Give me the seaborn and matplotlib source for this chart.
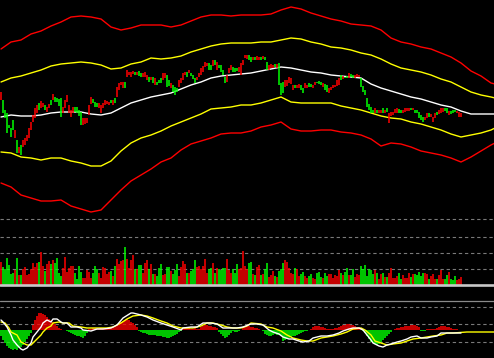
import numpy as np
import pandas as pd
import matplotlib
matplotlib.use("Agg")
import matplotlib.pyplot as plt
import seaborn as sns

# ---------------- data ----------------
open_ = [200,200,190,187,175,172,180,162,160,147,
         155,153,155,159,162,170,178,182,187,197,
         192,193,195,188,192,200,200,203,202,201,
         202,187,192,198,187,183,187,193,193,190,
         188,175,176,177,185,196,201,198,197,192,
         187,192,195,196,195,200,195,202,203,210,
         215,212,218,223,225,223,226,228,225,229,
         227,223,223,220,223,220,223,215,218,220,
         222,220,222,225,220,212,215,213,212,213,
         217,220,225,228,227,227,225,222,220,223,
         225,228,233,234,237,235,234,240,230,235,
         235,230,223,218,227,230,233,232,232,228,
         225,235,242,241,245,243,240,243,240,240,
         243,241,243,238,230,232,232,236,232,237,
         217,218,213,214,217,216,210,215,212,212,
         215,212,212,212,217,216,212,215,218,219,
         218,213,216,215,207,210,212,213,214,215,
         225,221,223,224,222,226,225,222,223,223,
         222,214,210,202,196,193,190,187,190,187,
         187,192,187,192,177,184,185,187,187,191,
         190,187,188,189,189,192,190,190,190,188,
         185,183,180,182,187,183,178,182,188,186,
         187,188,192,192,185,189,190,190,187,183,
         183]
close = [208,187,182,167,172,163,170,170,147,153,
         145,160,162,165,172,178,185,192,195,190,
         199,197,190,193,196,195,206,198,198,194,
         183,193,200,205,195,190,193,188,187,184,
         175,182,182,182,195,203,197,193,193,197,
         195,197,200,199,198,197,200,197,213,217,
         218,218,212,230,228,228,229,225,228,224,
         223,227,228,225,218,223,217,222,215,217,
         217,227,227,213,214,217,208,205,208,220,
         222,227,228,223,230,224,221,217,223,227,
         232,234,238,237,230,230,240,235,238,232,
         228,225,217,225,232,235,228,228,229,233,
         237,240,245,245,240,238,243,240,244,243,
         240,244,240,230,235,236,235,233,236,215,
         205,207,220,220,223,222,215,212,215,216,
         210,207,217,215,213,213,215,218,217,216,
         215,217,210,208,212,213,215,215,220,222,
         220,224,222,222,227,223,222,225,226,225,
         213,208,205,193,190,187,187,192,187,190,
         190,187,190,188,187,188,188,191,192,187,
         187,190,192,192,192,190,192,187,187,182,
         180,178,183,187,183,186,183,187,185,190,
         192,192,189,187,189,186,187,188,189,188,
         187]
volume = [23,18,16,27,20,11,12,15,27,10,
          10,16,18,10,11,16,22,18,22,23,
          33,19,14,21,24,21,25,22,27,12,
          9,17,28,13,17,19,19,12,6,19,
          13,7,7,15,13,7,12,19,16,12,
          7,18,17,11,13,14,9,19,26,21,
          24,25,38,26,17,25,30,16,16,20,
          20,12,22,25,16,21,11,11,9,17,
          21,10,11,18,18,14,11,15,21,9,
          18,24,21,12,12,14,16,25,18,19,
          16,19,26,12,16,17,22,12,17,16,
          15,17,17,26,15,12,16,12,21,16,
          17,34,19,16,22,
          23,11,10,18,20,10,11,16,22,8,
          10,14,9,8,14,16,22,25,23,
          17,12,11,17,16,9,11,13,9,
          7,9,11,7,6,12,13,8,7,12,
          9,11,11,7,10,9,15,12,10,
          13,17,10,10,16,8,11,10,19,
          16,20,9,16,15,11,15,12,6,
          11,12,8,8,12,17,7,7,9,12,
          6,10,7,7,12,8,11,11,10,
          13,9,12,12,11,6,9,11,6,
          6,10,15,6,6,10,13,6,5,9,
          5,6,8]
macd_hist = [-6,-10,-13,-16,-18,-19,-20,-19,-20,-18,-17,-15,-12,-9,-6,-3,
             5,10,14,17,17,16,15,13,11,10,8,6,4,2,
             1,0,0,-1,
             -2,-3,-4,-5,-6,-6,-7,-8,-6,-3,
             1,1,2,2,1,1,2,2,2,1,2,2,3,
             4,5,7,8,9,10,11,10,8,7,5,3,
             -1,-2,-3,-3,-4,-5,-5,-5,-5,-6,-6,-6,-7,-7,-8,-8,-7,-6,-5,-4,-2,-1,
             1,2,2,2,1,1,2,1,1,
             3,4,5,5,4,4,3,3,2,
             -2,-4,-6,-8,-7,-5,-3,
             -1,-2,-2,-1,0,
             3,4,5,4,3,3,2,2,1,
             0,-1,
             -4,-5,-6,-6,-5,-4,-5,-5,-6,-11,-10,-9,-8,-7,-6,-6,-5,-4,-3,-2,-1,-1,
             0,1,
             3,4,4,4,3,3,2,
             1,1,1,1,2,2,
             3,4,5,5,6,6,5,5,4,3,3,2,
             -1,-3,-6,-9,-12,-13,-14,-15,-14,-12,-10,-8,-6,-4,-2,
             0,
             1,2,2,3,3,4,4,4,5,5,5,4,3,
             -1,-1,-1,
             1,1,1,1,1,2,
             3,4,4,4,3,3,2,
             1,1,1,0,0]
dif_idx = [0,1,3,5,6,8,10,11,13,15,16,18,20,21,23,25,26,28,30,31,33,35,36,38,40,41,
           45,48,51,55,58,61,65,66,70,73,76,80,83,86,90,91,95,98,101,105,108,111,115,
           118,121,125,128,131,134,136,139,141,144,146,149,151,154,156,160,163,166,169,
           171,174,176,179,181,183,185,186,189,191,193,195,198,200,203,205,208,210,213,
           215,218,220,223,225,228,230]
dif_val = [10,8,3,-5,-10,-15,-19,-20,-18,-13,-7,-2,3,7,10,8,11,11,8,7,7,3,3,3,2,0,
           -1,1,1,2,5,12,17,17,15,13,10,7,5,3,0,2,3,3,7,7,6,2,2,
           2,3,6,6,5,0,-2,-4,-7,-9,-9,-11,-12,-11,-8,-6,-6,-5,-3,
           -1,1,2,2,0,-5,-10,-13,-16,-17,-15,-14,-12,-11,-9,-7,-6,-8,-8,
           -7,-6,-3,-3,-3,-3,-3]
dea_idx = [0,2,4,5,8,10,13,15,16,18,20,21,23,25,26,29,31,34,36,40,43,46,50,53,56,60,
           63,66,70,73,76,80,83,86,90,93,96,100,103,106,110,113,116,120,123,125,130,133,
           136,140,143,146,150,153,156,160,163,166,170,173,176,180,182,185,187,190,193,
           196,200,203,206,210,213,216,220,223,226,233,247]
dea_val = [8,7,2,-2,-5,-12,-15,-15,-13,-9,-5,-2,2,4,7,8,7,7,4,3,2,2,2,2,3,7,
           11,14,15,14,12,9,7,4,2,2,2,4,7,7,5,3,2,2,4,7,6,3,
           2,-1,-5,-8,-10,-11,-11,-8,-7,-6,-4,-2,1,2,0,-5,-11,-13,-15,
           -14,-13,-11,-9,-8,-7,-6,-5,-3,-3,-2,-2]
band_idx = [0,5,10,15,20,25,30,35,40,45,50,55,60,65,70,75,80,85,90,95,100,105,110,115,120,
            125,130,135,140,145,150,155,160,165,170,175,180,185,190,195,200,205,210,215,220,
            225,230,235,240,245,247]
band_up2 = [251,258,260,266,269,274,278,283,284,283,281,273,270,272,275,275,275,273,275,279,
            283,285,285,284,285,285,285,286,290,293,291,287,284,281,279,276,275,274,270,262,
            258,256,253,251,247,243,237,229,224,217,216]
band_up1 = [218,222,224,227,230,234,236,237,238,237,235,231,232,236,238,242,241,242,244,248,
            251,254,256,257,257,257,258,258,260,262,261,258,256,253,252,250,247,245,241,236,
            232,230,228,225,221,218,213,208,205,203,202]
band_mid = [183,185,184,184,185,187,188,188,188,186,185,187,192,197,200,203,205,207,211,215,
            218,222,224,225,226,227,229,231,233,232,230,228,227,225,224,223,222,216,212,209,
            206,203,201,198,195,193,189,186,186,186,186]
band_lo1 = [148,147,143,142,140,142,142,139,137,134,134,139,149,157,162,165,169,174,178,182,
            186,191,192,193,195,195,197,200,203,198,197,197,197,197,194,192,190,187,184,182,
            181,178,176,173,170,166,163,165,167,170,172]
band_lo2 = [117,113,105,102,99,99,100,94,91,88,90,100,110,119,125,131,138,142,150,156,
            159,162,166,167,167,169,173,175,178,171,169,169,170,170,168,167,165,161,154,157,
            156,153,149,147,145,142,138,143,149,155,157]
vol_grid = [16, 32, 48, 66]
macd_grid = [23.5, 5.7, -12.3]

# ---------------- styling ----------------
RED = "#ff0000"
GREEN = "#00ff00"
YELLOW = "#ffff00"
WHITE = "#ffffff"
GRID = "#7a7a7a"

sns.set_theme(style="white", rc={"figure.facecolor": "black",
                                 "axes.facecolor": "black",
                                 "savefig.facecolor": "black"})

W, H = 494, 358
fig = plt.figure(figsize=(W / 100, H / 100), dpi=100)
ax_main = fig.add_axes([0, 1 - 216 / H, 1, 216 / H])
ax_vol = fig.add_axes([0, 1 - 284.5 / H, 1, 68.5 / H])
ax_macd = fig.add_axes([0, 0, 1, 57 / H])
for ax in (ax_main, ax_vol, ax_macd):
    ax.set_axis_off()
    ax.set_xlim(-0.5, 246.5)

n = len(close)
idx = np.arange(n)
o = np.array(open_, float)
c = np.array(close, float)
up = c >= o
bar_cols = [RED if u else GREEN for u in up]
STICK = 1.1

# ---------------- main panel ----------------
bands = pd.DataFrame({"idx": band_idx, "up2": band_up2, "up1": band_up1,
                      "mid": band_mid, "lo1": band_lo1, "lo2": band_lo2})
for col, color in [("up2", RED), ("lo2", RED), ("up1", YELLOW), ("lo1", YELLOW), ("mid", WHITE)]:
    sns.lineplot(data=bands, x="idx", y=col, color=color, lw=1.0, ax=ax_main,
                 estimator=None, legend=False)
body_lo = np.minimum(o, c)
body_hi = np.maximum(np.maximum(o, c), body_lo + 1.0)
ax_main.vlines(idx, body_lo, body_hi, colors=bar_cols, linewidth=STICK, zorder=3)
ax_main.set_ylim(84, 300)
ax_main.set_axis_off()

# ---------------- volume panel ----------------
ax_vol.vlines(idx, 0, volume, colors=bar_cols, linewidth=STICK, zorder=2)
for g in vol_grid:
    ax_vol.axhline(g, color=GRID, lw=0.8, ls=(0, (3, 2.5)), zorder=1)
ax_vol.axhline(0, color="#c8c8c8", lw=1.9, clip_on=False, zorder=4)
ax_vol.set_ylim(0, 68.5)
ax_vol.set_axis_off()

# ---------------- MACD panel ----------------
h = np.array(macd_hist, float)
hist_cols = [RED if v >= 0 else GREEN for v in h]
ax_macd.vlines(idx, 0, h, colors=hist_cols, linewidth=STICK, zorder=2)
for g in macd_grid:
    ax_macd.axhline(g, color=GRID, lw=0.8, ls=(0, (3, 2.5)), zorder=1)
ax_macd.axhline(29, color="#8a8a8a", lw=0.9, clip_on=False, zorder=4)
sns.lineplot(x=dea_idx, y=dea_val, color=YELLOW, lw=1.0, ax=ax_macd, estimator=None, zorder=3)
sns.lineplot(x=dif_idx, y=dif_val, color=WHITE, lw=1.0, ax=ax_macd, estimator=None, zorder=3)
ax_macd.set_ylim(-28, 29)
ax_macd.set_axis_off()

fig.savefig("out.png", dpi=100, facecolor="black")
